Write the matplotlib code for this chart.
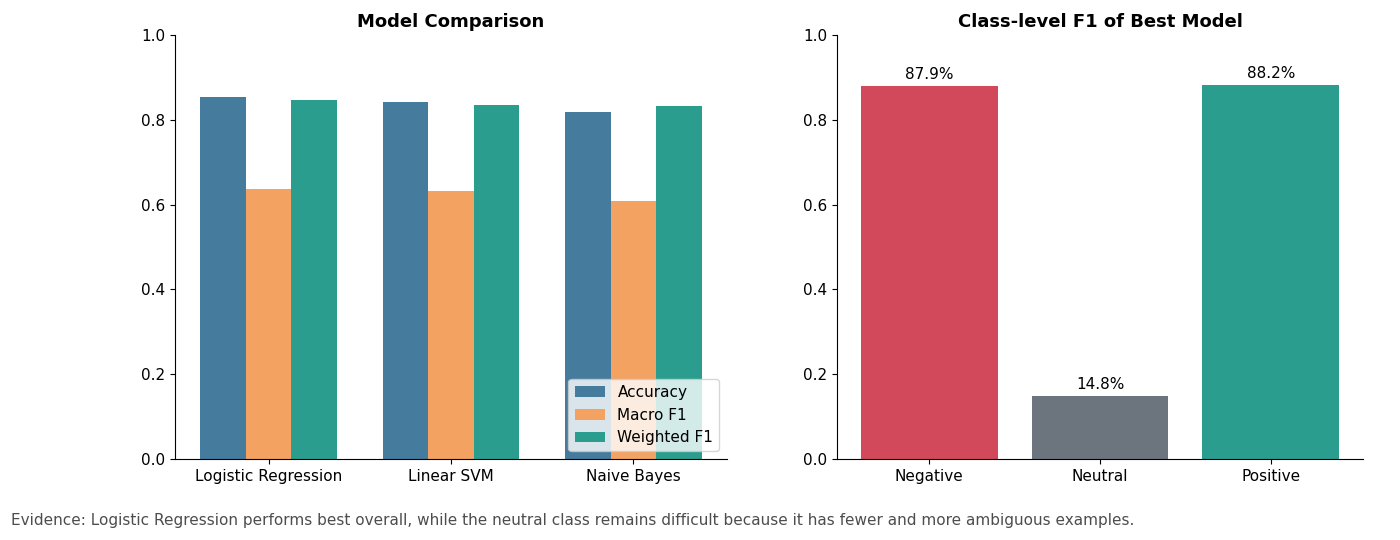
import numpy as np
import matplotlib
matplotlib.use("Agg")
import matplotlib.pyplot as plt

models = ["Logistic Regression", "Linear SVM", "Naive Bayes"]
accuracy = [0.854, 0.842, 0.818]
macro_f1 = [0.637, 0.632, 0.608]
weighted_f1 = [0.847, 0.835, 0.833]

classes = ["Negative", "Neutral", "Positive"]
class_f1 = [0.879, 0.148, 0.882]

fig = plt.figure(figsize=(14, 5.4), dpi=100)
ax1 = fig.add_axes([175 / 1400, 81 / 540, 552 / 1400, 424 / 540])
ax2 = fig.add_axes([837 / 1400, 81 / 540, 526 / 1400, 424 / 540])

x = np.arange(len(models))
w = 0.25
ax1.bar(x - w, accuracy, w, color="#457b9d", label="Accuracy")
ax1.bar(x, macro_f1, w, color="#f4a261", label="Macro F1")
ax1.bar(x + w, weighted_f1, w, color="#2a9d8f", label="Weighted F1")
ax1.set_xticks(x)
ax1.set_xticklabels(models, fontsize=11)
ax1.set_ylim(0, 1.0)
ax1.set_title("Model Comparison", fontsize=13, fontweight="bold")
ax1.legend(loc="lower right", fontsize=11, framealpha=0.8)

colors = ["#d1495b", "#6c757d", "#2a9d8f"]
bars = ax2.bar(classes, class_f1, 0.8, color=colors)
for b, v in zip(bars, class_f1):
    ax2.text(b.get_x() + b.get_width() / 2, v + 0.01, f"{v * 100:.1f}%",
             ha="center", va="bottom", fontsize=11)
ax2.set_ylim(0, 1.0)
ax2.set_title("Class-level F1 of Best Model", fontsize=13, fontweight="bold")
ax2.tick_params(axis="x", labelsize=11)

for ax in (ax1, ax2):
    ax.spines["top"].set_visible(False)
    ax.spines["right"].set_visible(False)
    ax.tick_params(axis="y", labelsize=11)

fig.text(11 / 1400, 1 - 521 / 540,
         "Evidence: Logistic Regression performs best overall, while the neutral class remains difficult because it has fewer and more ambiguous examples.",
         fontsize=11, color="#4d4d4d", va="center")

fig.savefig("out.png", dpi=100)
